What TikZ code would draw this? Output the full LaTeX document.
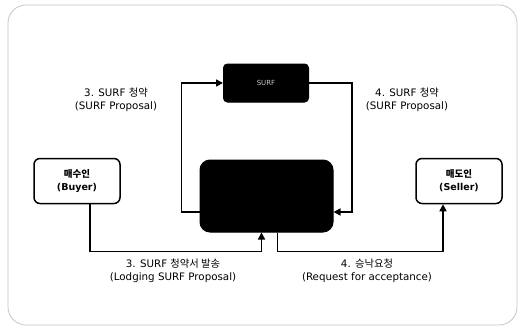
\documentclass[tikz,border=0pt]{standalone}
\usepackage{fontspec}
\setmainfont{DejaVu Sans}
\newfontfamily\kr{Noto Sans CJK KR}
\usetikzlibrary{arrows.meta,calc}
\tikzset{
  blackbox/.style={draw=black, fill=black, rounded corners=#1, line width=1pt},
  partybox/.style={draw=black, fill=white, rounded corners=6pt, line width=1.5pt, minimum width=86pt, minimum height=45pt, align=center, font=\fontsize{9.5}{13}\selectfont\bfseries},
  conn/.style={line width=1.5pt, -{Triangle[length=7pt,width=7pt]}},
  lbl/.style={align=center, font=\fontsize{10.3}{13}\selectfont},
}
\begin{document}
\begin{tikzpicture}[x=1pt,y=-1pt]
\useasboundingbox (0,0) rectangle (525,330);
\fill[white] (0,0) rectangle (525,330);
\draw[gray!45, line width=0.8pt, rounded corners=18pt] (8,5) rectangle (517,325);

\node[blackbox=4pt, minimum width=85pt, minimum height=38pt, text=gray!45, font=\fontsize{7}{8}\selectfont] (surf) at (266,83) {SURF};
\node[blackbox=10pt, minimum width=133pt, minimum height=72pt] (main) at (266.5,196) {};
\node[partybox] (buyer) at (77,181) {{\kr 매수인}\\(Buyer)};
\node[partybox] (seller) at (459,181) {{\kr 매도인}\\(Seller)};

\coordinate (lin) at ($(main.west)+(0,16)$);
\coordinate (rin) at ($(main.east)+(0,16)$);
\coordinate (bin) at ($(main.south)+(-5,0)$);
\coordinate (bout) at ($(main.south)+(11,0)$);
\coordinate (bcorner) at ($(main.south)+(-5,19)$);

\draw[conn] (lin) -- ++(-18,0) |- (surf.west);
\draw[conn] (surf.east) -- ++(43,0) |- (rin);
\draw[conn] ([xshift=13pt]buyer.south) |- (bcorner) -- (bin);
\draw[conn] (bout) -- ++(0,19) -| ([xshift=-16pt]seller.south);

\node[lbl] (l1) at (116,100) {3. SURF {\kr 청약}\\(SURF Proposal)};
\node[lbl] (l2) at (407,100) {4. SURF {\kr 청약}\\(SURF Proposal)};
\node[lbl] (l3) at (173,271) {3. SURF {\kr 청약서 발송}\\(Lodging SURF Proposal)};
\node[lbl] (l4) at (367,271) {4. {\kr 승낙요청}\\(Request for acceptance)};
\end{tikzpicture}
\end{document}
